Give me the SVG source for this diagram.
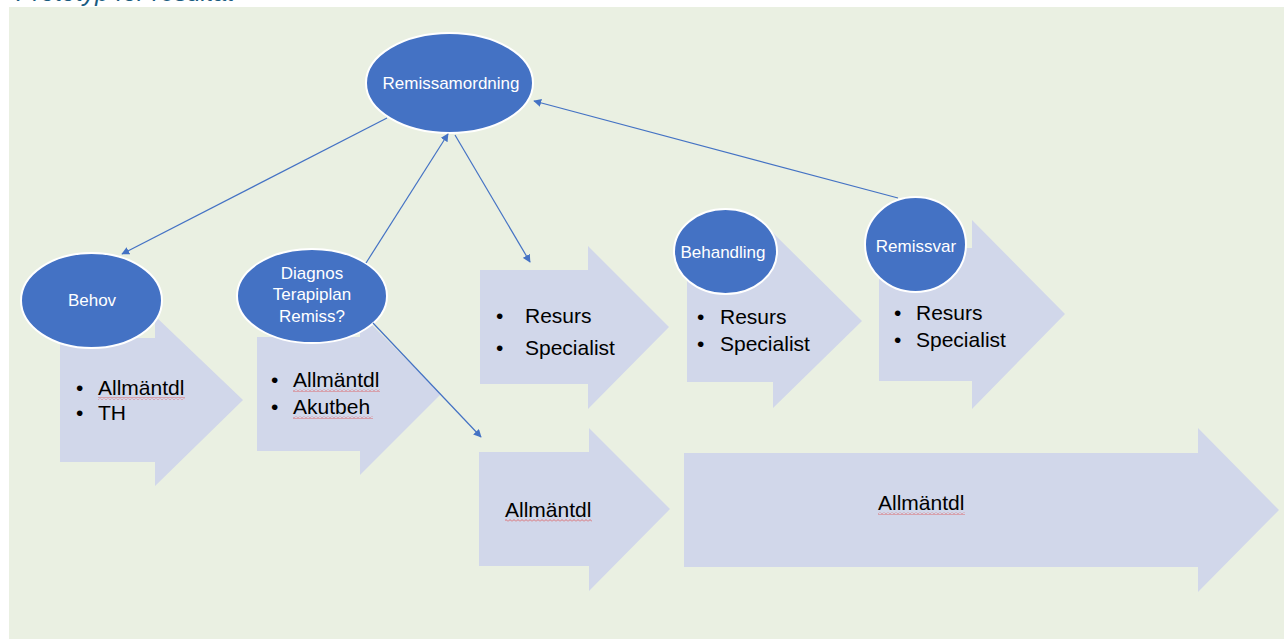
<svg xmlns="http://www.w3.org/2000/svg" width="1284" height="639" viewBox="0 0 1284 639">
<style>
.bg{fill:#EAF0E2}
.arr{fill:#D1D7EA}
.ell{fill:#4472C4;stroke:#FFFFFF;stroke-width:2}
.lbl{font-family:"Liberation Sans",Arial,sans-serif;font-size:17px;fill:#FFFFFF;text-anchor:middle}
.txt{font-family:"Liberation Sans",Arial,sans-serif;font-size:21px;fill:#000000}
.con{stroke:#4472C4;stroke-width:1.2;fill:none;marker-end:url(#ah)}
.title{font-family:"Liberation Sans",Arial,sans-serif;font-size:25px;font-style:italic;fill:#1A5C80}
</style>
<defs>
<marker id="ah" viewBox="0 0 10 10" refX="9" refY="5" markerWidth="8" markerHeight="8" markerUnits="userSpaceOnUse" orient="auto">
<path d="M0,0 L10,5 L0,10 z" fill="#4472C4"/>
</marker>
<pattern id="wave" width="4" height="3" patternUnits="userSpaceOnUse">
<path d="M0,2.5 L2,0.5 L4,2.5" stroke="#E05050" stroke-width="0.8" fill="none"/>
</pattern>
</defs>
<rect x="0" y="0" width="1284" height="639" fill="#FFFFFF"/>
<text class="title" x="16" y="1">Prototyp för resultat</text>
<rect class="bg" x="9" y="7" width="1275" height="632"/>

<g id="arrow-behov">
<polygon class="arr" points="60,338 155,338 155,316 243,400 155,486 155,462 60,462"/>
<text class="txt" x="76" y="395">•</text><text class="txt" x="98" y="395">Allmäntdl</text>
<rect x="98" y="397" width="87" height="3" fill="url(#wave)"/>
<text class="txt" x="76" y="420">•</text><text class="txt" x="98" y="420">TH</text>
</g>
<g id="arrow-diagnos">
<polygon class="arr" points="257,337 360,337 360,313 441,394 360,475 360,451 257,451"/>
<text class="txt" x="271" y="387">•</text><text class="txt" x="293" y="387">Allmäntdl</text>
<rect x="293" y="389" width="87" height="3" fill="url(#wave)"/>
<text class="txt" x="271" y="414">•</text><text class="txt" x="293" y="414">Akutbeh</text>
<rect x="293" y="416" width="80" height="3" fill="url(#wave)"/>
</g>
<g id="arrow-resurs">
<polygon class="arr" points="480,270 588,270 588,246 669,327 588,409 588,384 480,384"/>
<text class="txt" x="496" y="323">•</text><text class="txt" x="525" y="323">Resurs</text>
<text class="txt" x="496" y="355">•</text><text class="txt" x="525" y="355">Specialist</text>
</g>
<g id="arrow-behandling">
<polygon class="arr" points="687,260 773,260 773,233 862,321 773,408 773,382 687,382"/>
<text class="txt" x="697" y="324">•</text><text class="txt" x="720" y="324">Resurs</text>
<text class="txt" x="697" y="351">•</text><text class="txt" x="720" y="351">Specialist</text>
</g>
<g id="arrow-remissvar">
<polygon class="arr" points="879,248 972,248 972,220 1065,314 972,409 972,381 879,381"/>
<text class="txt" x="894" y="320">•</text><text class="txt" x="916" y="320">Resurs</text>
<text class="txt" x="894" y="347">•</text><text class="txt" x="916" y="347">Specialist</text>
</g>
<g id="arrow-allmantdl-1">
<polygon class="arr" points="479,452 589,452 589,428 670,509 589,591 589,566 479,566"/>
<text class="txt" x="505" y="517">Allmäntdl</text>
<rect x="505" y="519" width="87" height="3" fill="url(#wave)"/>
</g>
<g id="arrow-allmantdl-2">
<polygon class="arr" points="684,453 1198,453 1198,428 1279,510 1198,592 1198,567 684,567"/>
<text class="txt" x="878" y="510">Allmäntdl</text>
<rect x="878" y="512" width="87" height="3" fill="url(#wave)"/>
</g>

<g id="node-remissamordning">
<ellipse class="ell" cx="449.5" cy="83" rx="83.5" ry="50"/>
<text class="lbl" x="451" y="89">Remissamordning</text>
</g>
<g id="node-behov">
<ellipse class="ell" cx="91.5" cy="300.5" rx="70.5" ry="47.5"/>
<text class="lbl" x="92" y="306">Behov</text>
</g>
<g id="node-diagnos">
<ellipse class="ell" cx="312" cy="296" rx="75" ry="47"/>
<text class="lbl" x="312" y="279">Diagnos</text>
<text class="lbl" x="312" y="300">Terapiplan</text>
<text class="lbl" x="312" y="322">Remiss?</text>
</g>
<g id="node-behandling">
<ellipse class="ell" cx="725.5" cy="251.5" rx="51.5" ry="42.5"/>
<text class="lbl" x="723" y="258">Behandling</text>
</g>
<g id="node-remissvar">
<ellipse class="ell" cx="915.5" cy="244.5" rx="50.5" ry="47.5"/>
<text class="lbl" x="916" y="252">Remissvar</text>
</g>

<g id="connectors">
<line class="con" x1="387" y1="118" x2="122" y2="254"/>
<line class="con" x1="366" y1="263" x2="448" y2="134"/>
<line class="con" x1="455" y1="135" x2="530" y2="262"/>
<line class="con" x1="898" y1="198" x2="534" y2="101"/>
<line class="con" x1="373" y1="323" x2="481" y2="437"/>
</g>
</svg>
